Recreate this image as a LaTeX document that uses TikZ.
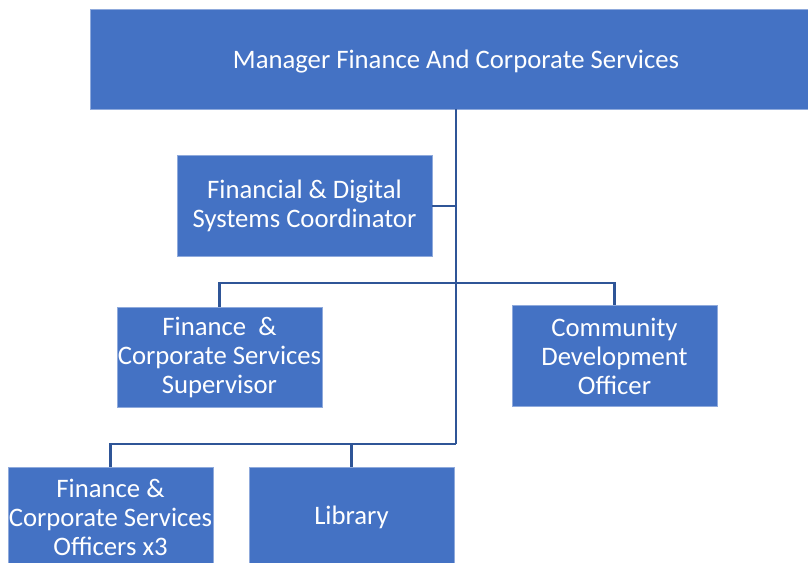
\documentclass[tikz,border=0pt]{standalone}
\usepackage{fontspec}
\setmainfont{Carlito}
\definecolor{boxblue}{HTML}{4472C4}
\definecolor{boxedge}{HTML}{8FAADC}
\definecolor{linkblue}{HTML}{2F5597}
\tikzset{
  orgbox/.style={rectangle, fill=boxblue, draw=boxedge, line width=0.8pt,
    text=white, align=center, inner sep=0pt,
    font=\fontsize{26.7}{29}\selectfont},
  link/.style={draw=linkblue, line width=2.4pt}
}
\begin{document}
\begin{tikzpicture}[x=1pt,y=-1pt]
\useasboundingbox (0,0) rectangle (808,562);
\clip (0,0) rectangle (808,562);
\node[orgbox, minimum width=732pt, minimum height=100pt] (top) at (456,59)
  {\raisebox{-3pt}[\height][\depth]{Manager Finance And Corporate Services}};
\node[orgbox, minimum width=255pt, minimum height=101pt] (coord) at (304.5,206)
  {Financial \& Digital\\Systems Coordinator};
\node[orgbox, minimum width=205pt, minimum height=100pt] (sup) at (219.5,357)
  {Finance\ \ \&\\Corporate Services\\Supervisor};
\node[orgbox, minimum width=205pt, minimum height=101pt] (cdo) at (614.5,356)
  {Community\\Development\\Officer};
\node[orgbox, minimum width=205pt, minimum height=100pt] (off) at (110.5,517)
  {Finance \&\\Corporate Services\\Officers x3};
\node[orgbox, minimum width=205pt, minimum height=100pt] (lib) at (351.5,517)
  {Library};
\coordinate (jm) at (456,283);
\coordinate (jb) at (456,444);
\draw[link] (top.south) -- (jb);
\draw[link] (coord.east) -- (coord.east -| jb);
\draw[link] (sup.north) |- (jm) -| (cdo.north);
\draw[link] (off.north) |- (jb);
\draw[link] (lib.north) -- (lib.north |- jb);
\end{tikzpicture}
\end{document}
